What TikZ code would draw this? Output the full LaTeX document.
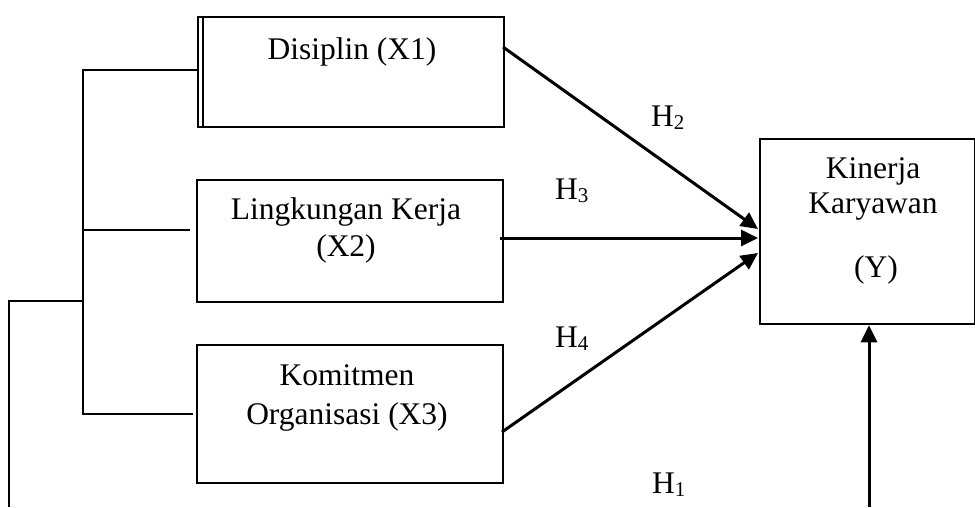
\documentclass[tikz,border=0pt]{standalone}
\usepackage{fontspec}
\setmainfont{Liberation Serif}
\usetikzlibrary{arrows.meta}
\begin{document}
\begin{tikzpicture}[x=1pt,y=-1pt,
  box/.style={draw,line width=2.3pt,inner sep=0pt,anchor=north west},
  txt/.style={font=\fontsize{31.5}{36}\selectfont,inner sep=0pt,anchor=base},
  hyp/.style={font=\fontsize{31.5}{36}\selectfont,inner sep=0pt,anchor=base west},
  link/.style={line width=2pt},
  arr/.style={line width=3pt,-{Triangle[length=17pt,width=16pt]}}]
\useasboundingbox (0,0) rectangle (975,507);

% variable boxes
\node[box,minimum width=306pt,minimum height=110pt] (x1) at (197,16) {};
\node[box,minimum width=306pt,minimum height=122pt] (x2) at (196,179) {};
\node[box,minimum width=306pt,minimum height=138pt] (x3) at (196,344) {};
\node[box,minimum width=215pt,minimum height=185pt] (y)  at (759,138) {};
% second rule on the left side of the first box
\draw[link] ([xshift=6pt]x1.north west) -- ([xshift=6pt]x1.south west);

% box captions
\node[txt] (t1)  at (352,59)  {Disiplin (X1)};
\node[txt] (t2a) at (346,219) {Lingkungan Kerja};
\node[txt] (t2b) at (346,256) {(X2)};
\node[txt] (t3a) at (347,385) {Komitmen};
\node[txt] (t3b) at (347,424) {Organisasi (X3)};
\node[txt] (t4a) at (873,178) {Kinerja};
\node[txt] (t4b) at (873,213) {Karyawan};
\node[txt] (t4c) at (876,277) {(Y)};

% hypothesis labels
\newcommand{\hsub}[1]{H\raisebox{-3pt}{\fontsize{21}{24}\selectfont #1}}
\node[hyp] (h2) at (651,126) {\hsub{2}};
\node[hyp] (h3) at (555,199) {\hsub{3}};
\node[hyp] (h4) at (555,347) {\hsub{4}};
\node[hyp] (h1) at (652,493) {\hsub{1}};

% bracket joining the three independent variables
\coordinate (b1) at (83,70);
\coordinate (b2) at (83,230);
\coordinate (b3) at (83,414);
\coordinate (e2) at (190,230);
\coordinate (e3) at (193,414);
\coordinate (o1) at (9,301);
\coordinate (o2) at (9,507);
\coordinate (bm) at (83,301);
\draw[link] (x1.west |- b1) -- (b1) -- (b3) -- (e3);
\draw[link] (b2) -- (e2);
\draw[link] (o2) -- (o1) -- (bm);

% paths into the dependent variable
\coordinate (s1) at (503,47);
\coordinate (s2) at (500,238);
\coordinate (s3) at (502,432);
\coordinate (k1) at (758,229);
\coordinate (k2) at (758,238);
\coordinate (k3) at (758,253);
\coordinate (s4) at (869,507);
\draw[arr] (s1) -- (k1);
\draw[arr] (s2) -- (k2);
\draw[arr] (s3) -- (k3);
\draw[arr] (s4) -- (y.south -| s4);
\end{tikzpicture}
\end{document}
